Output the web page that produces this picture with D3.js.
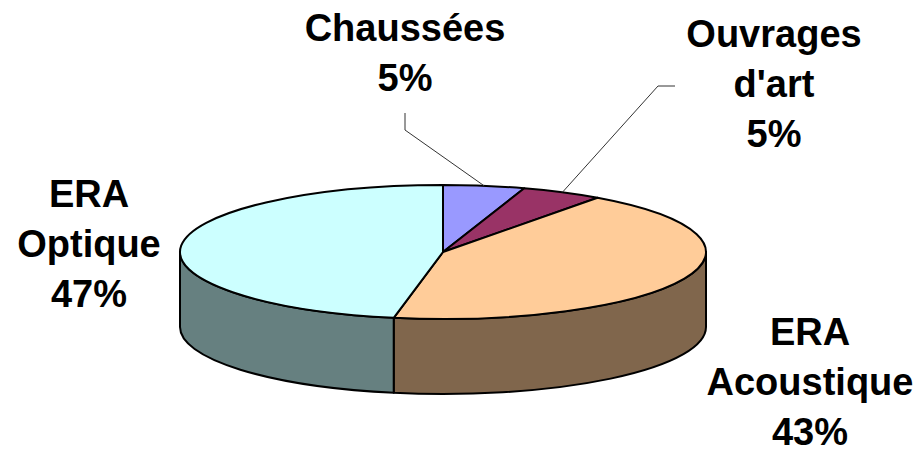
<!DOCTYPE html>
<html>
<head>
<meta charset="utf-8">
<script src="https://cdn.jsdelivr.net/npm/d3@7"></script>
<style>
  html, body { margin: 0; padding: 0; background: #fff; }
  #graf { width: 918px; height: 453px; }
  .etiqueta { font-family: "Liberation Sans", Arial, sans-serif; font-weight: bold; font-size: 38px; fill: #000; }
</style>
</head>
<body>
<div id="graf"></div>
<script>
// I. Datos
categorias = ['Chaussées', "Ouvrages d'art", 'ERA Acoustique', 'ERA Optique']
valores = [5, 5, 43, 47]
lineasEtiqueta = [['Chaussées'], ['Ouvrages', "d'art"], ['ERA', 'Acoustique'], ['ERA', 'Optique']]
coloresCara = ['#9999FF', '#993366', '#FFCC99', '#CCFFFF']
coloresLado = ['#4C4C80', '#4C1933', '#80664C', '#668080']

// II. Configuración
ancho_total = 918
alto_total = 453

centro = { x: 443, y: 252 }
rx = 263
ry = 67
grosor = 75

// posición de cada etiqueta (centro x, primera línea base y) y quiebre de la guía
etiquetas = [
  { x: 405, y: 41, guia: [[405, 113], [405, 130]] },
  { x: 774, y: 47, guia: [[675, 86], [658, 86]] },
  { x: 810, y: 345, guia: null },
  { x: 89, y: 207, guia: null }
]
interlinea = 50

svg = d3.select('#graf').append('svg')
        .attr('width', ancho_total)
        .attr('height', alto_total)

g = svg.append('g')

// escalas de proyección del círculo a la elipse
px = d3.scaleLinear().domain([-1, 1]).range([centro.x - rx, centro.x + rx])
py = d3.scaleLinear().domain([-1, 1]).range([centro.y - ry, centro.y + ry])

punto = (a, dy = 0) => [px(Math.sin(a)), py(-Math.cos(a)) + dy]

total = d3.sum(valores)
pie = d3.pie().sort(null).value(d => d)
arcos = pie(valores)

// III. Lados (sólo la mitad frontal, entre PI/2 y 3PI/2)
lados = arcos.map((d, i) => {
  a0 = Math.max(d.startAngle, Math.PI / 2)
  a1 = Math.min(d.endAngle, 3 * Math.PI / 2)
  return { i, a0, a1 }
}).filter(d => d.a1 > d.a0)

g.selectAll('path.lado')
  .data(lados)
  .enter()
  .append('path')
    .attr('class', 'lado')
    .attr('d', d => {
      p0 = punto(d.a0)
      p1 = punto(d.a1)
      q1 = punto(d.a1, grosor)
      q0 = punto(d.a0, grosor)
      return `M${p0}A${rx},${ry} 0 0 1 ${p1}L${q1}A${rx},${ry} 0 0 0 ${q0}Z`
    })
    .style('fill', d => coloresLado[d.i])
    .style('stroke', '#000')
    .style('stroke-width', 2)
    .style('stroke-linejoin', 'round')

// IV. Caras superiores
g.selectAll('path.cara')
  .data(arcos)
  .enter()
  .append('path')
    .attr('class', 'cara')
    .attr('d', d => {
      p0 = punto(d.startAngle)
      p1 = punto(d.endAngle)
      grande = (d.endAngle - d.startAngle) > Math.PI ? 1 : 0
      return `M${centro.x},${centro.y}L${p0}A${rx},${ry} 0 ${grande} 1 ${p1}Z`
    })
    .style('fill', (d, i) => coloresCara[i])
    .style('stroke', '#000')
    .style('stroke-width', 2)
    .style('stroke-linejoin', 'round')

// V. Guías
linea = d3.line()
arcos.forEach((d, i) => {
  if (!etiquetas[i].guia) return
  medio = (d.startAngle + d.endAngle) / 2
  pts = etiquetas[i].guia.concat([punto(medio)])
  g.append('path')
    .attr('d', linea(pts))
    .style('fill', 'none')
    .style('stroke', '#333')
    .style('stroke-width', 1)
})

// VI. Etiquetas
arcos.forEach((d, i) => {
  lineas = lineasEtiqueta[i].concat([Math.round(d.value / total * 100) + '%'])
  t = g.append('text')
        .attr('class', 'etiqueta')
        .attr('text-anchor', 'middle')
  lineas.forEach((l, j) => {
    t.append('tspan')
      .attr('x', etiquetas[i].x)
      .attr('y', etiquetas[i].y + j * interlinea)
      .text(l)
  })
})
</script>
</body>
</html>
